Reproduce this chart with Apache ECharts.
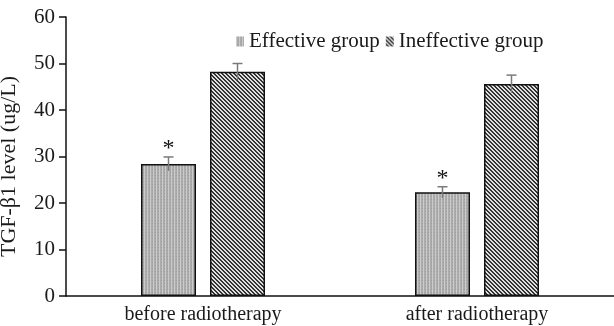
<!DOCTYPE html>
<html><head><meta charset="utf-8">
<script src="https://cdn.jsdelivr.net/npm/echarts@6/dist/echarts.min.js"></script>
<style>html,body{margin:0;padding:0;background:#fff}#c{width:614px;height:326px}</style>
</head><body><div id="c"></div>
<script>
const categories = ['before radiotherapy', 'after radiotherapy'];
const effective = [28.4, 22.3];
const ineffective = [48.2, 45.6];
const effectiveErr = [1.5, 1.2];
const ineffectiveErr = [1.8, 1.9];
const seriesNames = ['Effective group', 'Ineffective group'];
const significant = ['*', '*'];
const yMin = 0, yMax = 60, yStep = 10;

function makePattern(kind) {
  const c = document.createElement('canvas');
  if (kind === 'dots') {
    c.width = 3; c.height = 3;
    const g = c.getContext('2d');
    g.fillStyle = '#acacac'; g.fillRect(0, 0, 3, 3);
    g.fillStyle = '#cbcbcb'; g.fillRect(0, 0, 1, 3);
    g.fillStyle = '#9c9c9c'; g.fillRect(2, 1, 1, 1);
  } else {
    c.width = 4; c.height = 4;
    const g = c.getContext('2d');
    g.fillStyle = '#e0e0e0'; g.fillRect(0, 0, 4, 4);
    g.fillStyle = '#333';
    for (let i = 0; i < 4; i++) { g.fillRect(i, i, 1, 1); g.fillRect((i + 1) % 4, i, 1, 1); }
  }
  return { image: c, repeat: 'repeat' };
}
const effFill = makePattern('dots');
const ineFill = makePattern('stripes');

const FONT = 'Liberation Serif';
const BAR_W = 55, GAP = 14;

function errSeries(vals, errs, offset, marks) {
  return {
    type: 'custom',
    z: 5,
    data: vals.map((v, i) => [i, v, errs[i]]),
    renderItem: function (params, api) {
      const i = api.value(0), v = api.value(1), e = api.value(2);
      const top = api.coord([i, v + e]);
      const bot = api.coord([i, v - e]);
      const x = top[0] + offset;
      const children = [
        { type: 'line', shape: { x1: x, y1: top[1], x2: x, y2: bot[1] }, style: { stroke: '#7a7a7a', lineWidth: 1.5 } },
        { type: 'line', shape: { x1: x - 5, y1: top[1], x2: x + 5, y2: top[1] }, style: { stroke: '#7a7a7a', lineWidth: 1.5 } }
      ];
      if (marks) {
        children.push({ type: 'text', style: { text: marks[i], x: x, y: top[1] + 4, align: 'center', verticalAlign: 'bottom', font: '24px ' + FONT, fill: '#111' } });
      }
      return { type: 'group', children: children };
    },
    tooltip: { show: false },
    silent: true
  };
}

const chart = echarts.init(document.getElementById('c'));
chart.setOption({
  animation: false,
  backgroundColor: '#fff',
  grid: { left: 66, right: 0, top: 17, bottom: 30, outerBoundsMode: 'none', containLabel: false },
  legend: {
    top: 26, left: 231,
    itemWidth: 8, itemHeight: 10, itemGap: 6,
    textStyle: { fontFamily: FONT, fontSize: 21, color: '#1a1a1a' },
    data: [
      { name: seriesNames[0], icon: 'rect', itemStyle: { color: effFill, borderWidth: 0 } },
      { name: seriesNames[1], icon: 'rect', itemStyle: { color: ineFill, borderWidth: 0 } }
    ]
  },
  xAxis: {
    type: 'category', data: categories,
    axisLine: { lineStyle: { color: '#111', width: 1.5 } },
    axisTick: { show: false },
    axisLabel: { fontFamily: FONT, fontSize: 20, color: '#1a1a1a', margin: 9 }
  },
  yAxis: {
    type: 'value', min: yMin, max: yMax, interval: yStep,
    name: 'TGF-β1 level (ug/L)', nameLocation: 'middle', nameGap: 46,
    nameTextStyle: { fontFamily: FONT, fontSize: 22, color: '#1a1a1a', padding: [0, 20, 0, 0] },
    axisLine: { show: true, lineStyle: { color: '#111', width: 1.5 } },
    axisTick: { show: true, length: 7, lineStyle: { color: '#111', width: 1.5 } },
    axisLabel: { fontFamily: FONT, fontSize: 21, color: '#1a1a1a', margin: 11 },
    splitLine: { show: false }
  },
  series: [
    { name: seriesNames[0], type: 'bar', data: effective, barWidth: BAR_W, barGap: (GAP / BAR_W * 100) + '%',
      itemStyle: { color: effFill, borderColor: '#111', borderWidth: 1.5 } },
    { name: seriesNames[1], type: 'bar', data: ineffective, barWidth: BAR_W,
      itemStyle: { color: ineFill, borderColor: '#111', borderWidth: 1.5 } },
    errSeries(effective, effectiveErr, -(BAR_W + GAP) / 2, significant),
    errSeries(ineffective, ineffectiveErr, (BAR_W + GAP) / 2, null)
  ]
});
</script></body></html>
